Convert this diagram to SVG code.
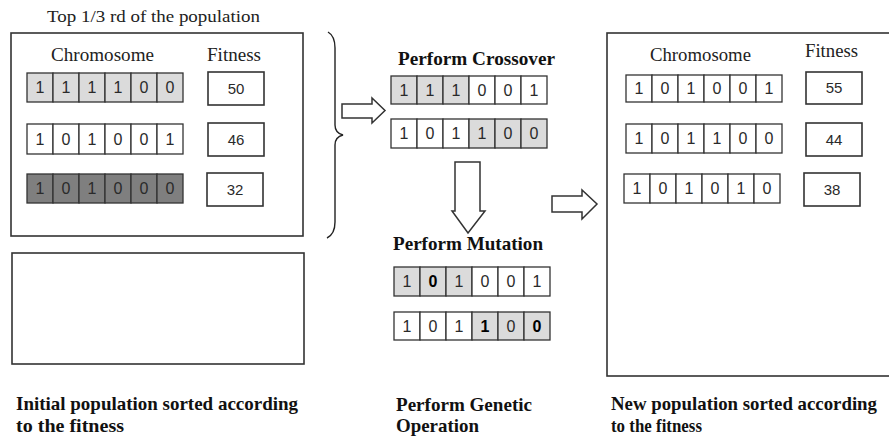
<svg xmlns="http://www.w3.org/2000/svg" width="889" height="439" viewBox="0 0 889 439">
  <style>
    .box { fill: #ffffff; stroke: #333333; stroke-width: 1.6; }
    .cell { stroke: #333333; stroke-width: 1.3; }
    .w { fill: #ffffff; }
    .lt { fill: #dbdbdb; }
    .dk { fill: #7f7f7f; }
    .bit { font-family: "Liberation Sans", Arial, sans-serif; font-size: 16px; fill: #2a2a2a; text-anchor: middle; }
    .bold { font-weight: bold; fill: #000000; }
    .fit { font-family: "Liberation Sans", Arial, sans-serif; font-size: 15px; fill: #2a2a2a; text-anchor: middle; }
    .lbl { font-family: "Liberation Serif", "Times New Roman", serif; font-size: 19px; fill: #222222; }
    .small { font-size: 17px; }
    .head { font-family: "Liberation Serif", "Times New Roman", serif; font-size: 19px; font-weight: bold; fill: #111111; }
    .conn { fill: #ffffff; stroke: #333333; stroke-width: 1.5; stroke-linejoin: miter; }
    .brace { fill: none; stroke: #222222; stroke-width: 1.4; }
  </style>

  <!-- initial population: top third -->
  <g id="initial-top">
    <text class="lbl small" x="47" y="22" textLength="213" lengthAdjust="spacingAndGlyphs">Top 1/3 rd of the population</text>
    <rect class="box" x="11" y="33" width="292" height="203"/>
    <text class="lbl" x="51" y="61" textLength="103" lengthAdjust="spacingAndGlyphs">Chromosome</text>
    <text class="lbl" x="207" y="61" textLength="54" lengthAdjust="spacingAndGlyphs">Fitness</text>
  </g>

  <g id="initial-row1">
    <rect class="cell lt" x="27" y="73" width="26" height="29"/>
    <rect class="cell lt" x="53" y="73" width="26" height="29"/>
    <rect class="cell lt" x="79" y="73" width="26" height="29"/>
    <rect class="cell lt" x="105" y="73" width="26" height="29"/>
    <rect class="cell lt" x="131" y="73" width="26" height="29"/>
    <rect class="cell lt" x="157" y="73" width="26" height="29"/>
    <text class="bit" x="40" y="93">1</text>
    <text class="bit" x="66" y="93">1</text>
    <text class="bit" x="92" y="93">1</text>
    <text class="bit" x="118" y="93">1</text>
    <text class="bit" x="144" y="93">0</text>
    <text class="bit" x="170" y="93">0</text>
    <rect class="box" x="208" y="72" width="56" height="33"/>
    <text class="fit" x="236" y="94">50</text>
  </g>

  <g id="initial-row2">
    <rect class="cell w" x="27" y="124" width="26" height="30"/>
    <rect class="cell w" x="53" y="124" width="26" height="30"/>
    <rect class="cell w" x="79" y="124" width="26" height="30"/>
    <rect class="cell w" x="105" y="124" width="26" height="30"/>
    <rect class="cell w" x="131" y="124" width="26" height="30"/>
    <rect class="cell w" x="157" y="124" width="26" height="30"/>
    <text class="bit" x="40" y="145">1</text>
    <text class="bit" x="66" y="145">0</text>
    <text class="bit" x="92" y="145">1</text>
    <text class="bit" x="118" y="145">0</text>
    <text class="bit" x="144" y="145">0</text>
    <text class="bit" x="170" y="145">1</text>
    <rect class="box" x="208" y="123" width="56" height="33"/>
    <text class="fit" x="236" y="145">46</text>
  </g>

  <g id="initial-row3">
    <rect class="cell dk" x="27" y="174" width="26" height="29"/>
    <rect class="cell dk" x="53" y="174" width="26" height="29"/>
    <rect class="cell dk" x="79" y="174" width="26" height="29"/>
    <rect class="cell dk" x="105" y="174" width="26" height="29"/>
    <rect class="cell dk" x="131" y="174" width="26" height="29"/>
    <rect class="cell dk" x="157" y="174" width="26" height="29"/>
    <text class="bit" x="40" y="194">1</text>
    <text class="bit" x="66" y="194">0</text>
    <text class="bit" x="92" y="194">1</text>
    <text class="bit" x="118" y="194">0</text>
    <text class="bit" x="144" y="194">0</text>
    <text class="bit" x="170" y="194">0</text>
    <rect class="box" x="207" y="173" width="56" height="33"/>
    <text class="fit" x="235" y="195">32</text>
  </g>

  <!-- remainder of the initial population -->
  <g id="initial-rest">
    <rect class="box" x="12" y="253" width="292" height="111"/>
    <text class="head" x="16" y="410" textLength="282" lengthAdjust="spacingAndGlyphs">Initial population sorted according</text>
    <text class="head" x="16" y="432" textLength="108" lengthAdjust="spacingAndGlyphs">to the fitness</text>
  </g>

  <!-- crossover step -->
  <g id="crossover">
    <text class="head" x="398" y="65" textLength="157" lengthAdjust="spacingAndGlyphs">Perform Crossover</text>
    <rect class="cell lt" x="391" y="76" width="26" height="28"/>
    <rect class="cell lt" x="417" y="76" width="26" height="28"/>
    <rect class="cell lt" x="443" y="76" width="26" height="28"/>
    <rect class="cell w" x="469" y="76" width="26" height="28"/>
    <rect class="cell w" x="495" y="76" width="26" height="28"/>
    <rect class="cell w" x="521" y="76" width="26" height="28"/>
    <text class="bit" x="404" y="96">1</text>
    <text class="bit" x="430" y="96">1</text>
    <text class="bit" x="456" y="96">1</text>
    <text class="bit" x="482" y="96">0</text>
    <text class="bit" x="508" y="96">0</text>
    <text class="bit" x="534" y="96">1</text>
    <rect class="cell w" x="391" y="119" width="26" height="29"/>
    <rect class="cell w" x="417" y="119" width="26" height="29"/>
    <rect class="cell w" x="443" y="119" width="26" height="29"/>
    <rect class="cell lt" x="469" y="119" width="26" height="29"/>
    <rect class="cell lt" x="495" y="119" width="26" height="29"/>
    <rect class="cell lt" x="521" y="119" width="26" height="29"/>
    <text class="bit" x="404" y="139">1</text>
    <text class="bit" x="430" y="139">0</text>
    <text class="bit" x="456" y="139">1</text>
    <text class="bit" x="482" y="139">1</text>
    <text class="bit" x="508" y="139">0</text>
    <text class="bit" x="534" y="139">0</text>
  </g>

  <!-- mutation step -->
  <g id="mutation">
    <text class="head" x="393" y="250" textLength="150" lengthAdjust="spacingAndGlyphs">Perform Mutation</text>
    <rect class="cell lt" x="394" y="267" width="26" height="29"/>
    <rect class="cell lt" x="420" y="267" width="26" height="29"/>
    <rect class="cell lt" x="446" y="267" width="26" height="29"/>
    <rect class="cell w" x="472" y="267" width="26" height="29"/>
    <rect class="cell w" x="498" y="267" width="26" height="29"/>
    <rect class="cell w" x="524" y="267" width="26" height="29"/>
    <text class="bit" x="407" y="287">1</text>
    <text class="bit bold" x="433" y="287">0</text>
    <text class="bit" x="459" y="287">1</text>
    <text class="bit" x="485" y="287">0</text>
    <text class="bit" x="511" y="287">0</text>
    <text class="bit" x="537" y="287">1</text>
    <rect class="cell w" x="394" y="312" width="26" height="28"/>
    <rect class="cell w" x="420" y="312" width="26" height="28"/>
    <rect class="cell w" x="446" y="312" width="26" height="28"/>
    <rect class="cell lt" x="472" y="312" width="26" height="28"/>
    <rect class="cell lt" x="498" y="312" width="26" height="28"/>
    <rect class="cell lt" x="524" y="312" width="26" height="28"/>
    <text class="bit" x="407" y="332">1</text>
    <text class="bit" x="433" y="332">0</text>
    <text class="bit" x="459" y="332">1</text>
    <text class="bit bold" x="485" y="332">1</text>
    <text class="bit" x="511" y="332">0</text>
    <text class="bit bold" x="537" y="332">0</text>
  </g>

  <g id="genetic-caption">
    <text class="head" x="396" y="411" textLength="136" lengthAdjust="spacingAndGlyphs">Perform Genetic</text>
    <text class="head" x="396" y="432" textLength="83" lengthAdjust="spacingAndGlyphs">Operation</text>
  </g>

  <!-- new population -->
  <g id="new-population">
    <rect class="box" x="607" y="33" width="290" height="343"/>
    <text class="lbl" x="650" y="61" textLength="101" lengthAdjust="spacingAndGlyphs">Chromosome</text>
    <text class="lbl" x="805" y="57" textLength="53" lengthAdjust="spacingAndGlyphs">Fitness</text>
    <text class="head" x="611" y="410" textLength="266" lengthAdjust="spacingAndGlyphs">New population sorted according</text>
    <text class="head" x="611" y="432" textLength="91" lengthAdjust="spacingAndGlyphs">to the fitness</text>
  </g>

  <g id="new-row1">
    <rect class="cell w" x="626" y="75" width="26" height="27"/>
    <rect class="cell w" x="652" y="75" width="26" height="27"/>
    <rect class="cell w" x="678" y="75" width="26" height="27"/>
    <rect class="cell w" x="704" y="75" width="26" height="27"/>
    <rect class="cell w" x="730" y="75" width="26" height="27"/>
    <rect class="cell w" x="756" y="75" width="26" height="27"/>
    <text class="bit" x="639" y="94">1</text>
    <text class="bit" x="665" y="94">0</text>
    <text class="bit" x="691" y="94">1</text>
    <text class="bit" x="717" y="94">0</text>
    <text class="bit" x="743" y="94">0</text>
    <text class="bit" x="769" y="94">1</text>
    <rect class="box" x="806" y="72" width="56" height="32"/>
    <text class="fit" x="834" y="93">55</text>
  </g>

  <g id="new-row2">
    <rect class="cell w" x="626" y="124" width="26" height="29"/>
    <rect class="cell w" x="652" y="124" width="26" height="29"/>
    <rect class="cell w" x="678" y="124" width="26" height="29"/>
    <rect class="cell w" x="704" y="124" width="26" height="29"/>
    <rect class="cell w" x="730" y="124" width="26" height="29"/>
    <rect class="cell w" x="756" y="124" width="26" height="29"/>
    <text class="bit" x="639" y="144">1</text>
    <text class="bit" x="665" y="144">0</text>
    <text class="bit" x="691" y="144">1</text>
    <text class="bit" x="717" y="144">1</text>
    <text class="bit" x="743" y="144">0</text>
    <text class="bit" x="769" y="144">0</text>
    <rect class="box" x="806" y="123" width="56" height="33"/>
    <text class="fit" x="834" y="145">44</text>
  </g>

  <g id="new-row3">
    <rect class="cell w" x="624" y="174" width="26" height="29"/>
    <rect class="cell w" x="650" y="174" width="26" height="29"/>
    <rect class="cell w" x="676" y="174" width="26" height="29"/>
    <rect class="cell w" x="702" y="174" width="26" height="29"/>
    <rect class="cell w" x="728" y="174" width="26" height="29"/>
    <rect class="cell w" x="754" y="174" width="26" height="29"/>
    <text class="bit" x="637" y="194">1</text>
    <text class="bit" x="663" y="194">0</text>
    <text class="bit" x="689" y="194">1</text>
    <text class="bit" x="715" y="194">0</text>
    <text class="bit" x="741" y="194">1</text>
    <text class="bit" x="767" y="194">0</text>
    <rect class="box" x="804" y="173" width="56" height="33"/>
    <text class="fit" x="832" y="195">38</text>
  </g>

  <!-- brace and block arrows -->
  <g id="connectors">
    <path class="brace" d="M328,32 Q335,36 335,48 V125 Q335,133 343,135 Q335,137 335,145 V222 Q335,234 327,238"/>
    <path class="conn" d="M342,104 H372 V98 L385,110.5 L372,123 V118 H342 Z"/>
    <path class="conn" d="M455,162 H480 V211 H485 L468,233 L452,211 H455 Z"/>
    <path class="conn" d="M552,196 H582 V190 L597,204 L582,219 V212 H552 Z"/>
  </g>
</svg>
